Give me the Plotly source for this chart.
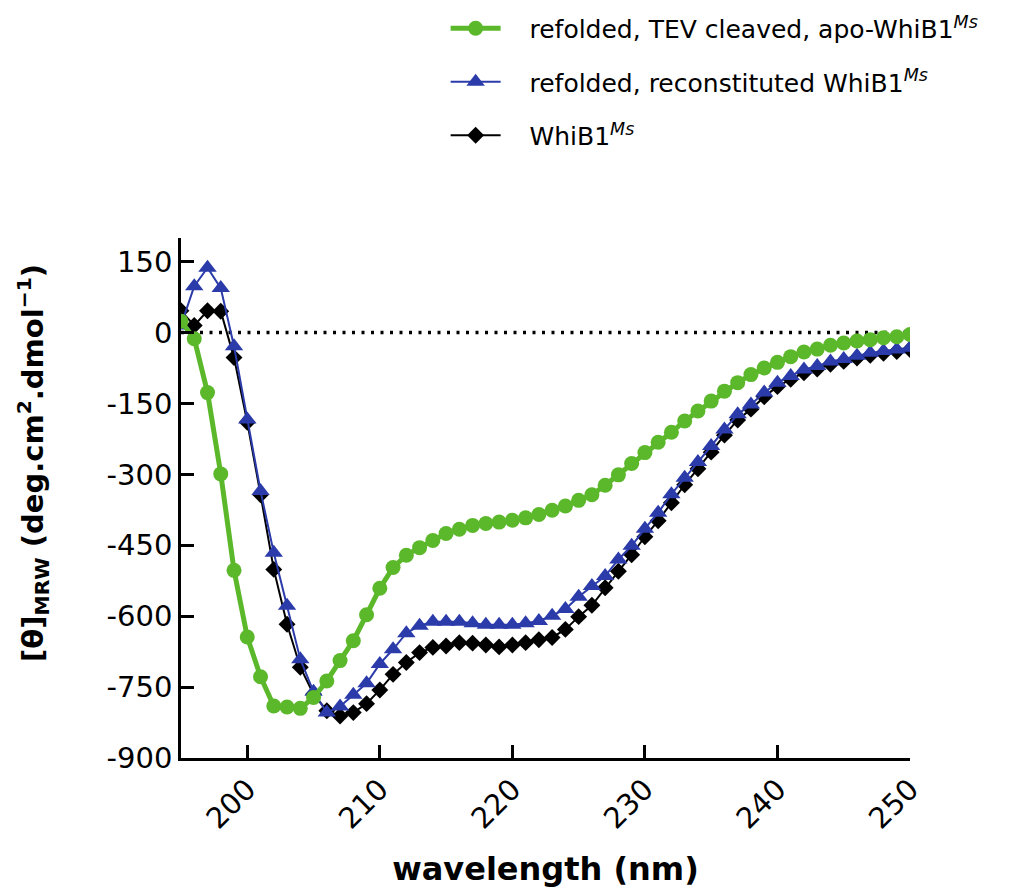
import plotly.graph_objects as go

# Wavelength grid (nm), 1 nm steps
wavelength = list(range(195, 251))

# Mean residue ellipticity, deg.cm2.dmol-1
apo_tev = [24, -13, -127, -299, -503, -644, -728, -790, -792, -795,
           -772, -737, -694, -652, -597, -541, -497, -471, -455, -440,
           -425, -416, -408, -404, -401, -397, -392, -385, -376, -367,
           -355, -343, -323, -301, -277, -254, -232, -211, -187, -166,
           -145, -124, -106, -89, -75, -63, -51, -41, -35, -27,
           -22, -18, -15, -11, -9, -4]

reconstituted = [15, 98, 137, 94, -29, -184, -335, -466, -578, -691,
                 -760, -804, -791, -766, -742, -701, -670, -636, -620, -612,
                 -612, -612, -615, -618, -618, -618, -615, -610, -599, -585,
                 -559, -536, -515, -480, -451, -415, -381, -342, -307, -274,
                 -240, -205, -173, -152, -127, -106, -92, -78, -71, -61,
                 -56, -49, -43, -39, -36, -32]

native = [46, 15, 46, 45, -53, -190, -343, -501, -617, -708,
          -765, -800, -811, -804, -785, -756, -723, -698, -677, -666,
          -663, -656, -657, -661, -665, -661, -656, -650, -645, -628,
          -601, -577, -540, -505, -470, -432, -398, -360, -322, -288,
          -253, -217, -185, -162, -136, -114, -99, -85, -77, -67,
          -61, -54, -48, -44, -40, -36]

PAD = "\u00a0\u00a0\u00a0"
names = [PAD + "refolded, TEV cleaved, apo-WhiB1<sup><i>Ms</i></sup>",
         PAD + "refolded, reconstituted WhiB1<sup><i>Ms</i></sup>",
         PAD + "WhiB1<sup><i>Ms</i></sup>"]

x_ticks = [200, 210, 220, 230, 240, 250]
y_ticks = [-900, -750, -600, -450, -300, -150, 0, 150]
y_ticktext = [str(v) for v in y_ticks]

GREEN = "#5cb82b"
BLUE = "#2b3baa"
BLACK = "#000000"
FONT = "DejaVu Sans"

fig = go.Figure()

# drawn bottom-up: native, reconstituted, apo on top
fig.add_trace(go.Scatter(
    x=wavelength, y=native, name=names[2], legendgroup="c", legendrank=3,
    mode="lines+markers",
    line=dict(color=BLACK, width=2),
    marker=dict(symbol="diamond", size=13, color=BLACK),
))
fig.add_trace(go.Scatter(
    x=wavelength, y=reconstituted, name=names[1], legendgroup="b", legendrank=2,
    mode="lines+markers",
    line=dict(color=BLUE, width=2),
    marker=dict(symbol="triangle-up", size=16, color=BLUE),
))
fig.add_trace(go.Scatter(
    x=wavelength, y=apo_tev, name=names[0], legendgroup="a", legendrank=1,
    mode="lines+markers",
    line=dict(color=GREEN, width=5),
    marker=dict(symbol="circle", size=15, color=GREEN),
))

# dotted zero reference
fig.add_shape(type="line", xref="x", yref="y", x0=195, x1=250, y0=0, y1=0,
              line=dict(color=BLACK, width=3.5, dash="3px,6.5px"), layer="below")

# y-axis title, placed as a rotated annotation
fig.add_annotation(
    text="<b>[θ]<sub>MRW</sub> (deg.cm<sup>2</sup>.dmol<sup>−1</sup>)</b>",
    xref="paper", yref="paper", x=-0.204, y=0.568,
    xanchor="center", yanchor="middle", textangle=-90, showarrow=False,
    font=dict(family=FONT, size=29, color=BLACK),
)

fig.update_layout(
    width=1010, height=894,
    margin=dict(l=181, r=100, t=238, b=136, autoexpand=False),
    paper_bgcolor="white", plot_bgcolor="white",
    font=dict(family=FONT, color="black", size=29),
    showlegend=True,
    legend=dict(
        x=0.363, y=1.447, xanchor="left", yanchor="top",
        font=dict(family=FONT, size=25, color="black"),
        traceorder="grouped", tracegroupgap=18,
        bgcolor="rgba(0,0,0,0)", itemwidth=50,
    ),
    xaxis=dict(
        range=[195, 250], tickvals=x_ticks, tickangle=-45,
        ticks="inside", ticklen=13, tickwidth=2.5, tickcolor=BLACK,
        showline=True, linewidth=2.5, linecolor=BLACK,
        showgrid=False, zeroline=False,
        tickfont=dict(family=FONT, size=29),
        title=dict(text="<b>wavelength (nm)</b>",
                   font=dict(family=FONT, size=32), standoff=24),
    ),
    yaxis=dict(
        range=[-900, 200], tickvals=y_ticks, ticktext=y_ticktext,
        ticks="inside", ticklen=13, tickwidth=2.5, tickcolor=BLACK,
        showline=True, linewidth=2.5, linecolor=BLACK,
        showgrid=False, zeroline=False,
        tickfont=dict(family=FONT, size=29),
    ),
)

fig.write_html("out.html")
